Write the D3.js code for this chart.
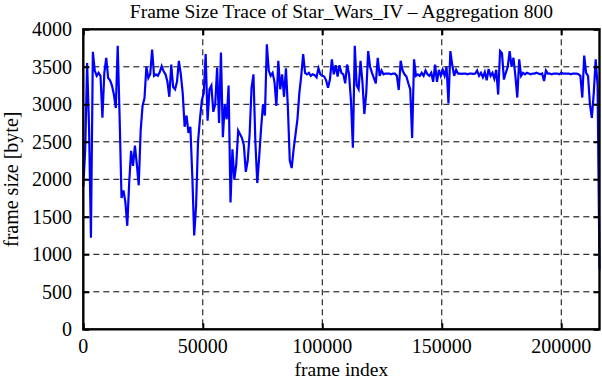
<!DOCTYPE html>
<html>
<head>
<meta charset="utf-8">
<script src="https://cdn.jsdelivr.net/npm/d3@7"></script>
<style>
  html, body { margin: 0; padding: 0; background: #fff; }
  svg text { font-family: "Liberation Serif", "Times New Roman", serif; font-size: 20px; fill: #000; }
</style>
</head>
<body>
<svg id="chart" width="602" height="380"></svg>
<script>
// ---- data ----
const title = "Frame Size Trace of Star_Wars_IV \u2013 Aggregation 800";
const xLabel = "frame index";
const yLabel = "frame size [byte]";
const aggregation = 800;
const xTicks = [0, 50000, 100000, 150000, 200000];
const yTicks = [0, 500, 1000, 1500, 2000, 2500, 3000, 3500, 4000];
const frameSizes = [
  1900, 2400, 3550, 2700, 1220, 3700, 3450, 3380, 3420, 3380,
  2820, 3420, 3620, 3350, 3320, 3250, 3130, 2950, 3780, 2820,
  1750, 1850, 1700, 1380, 1950, 2380, 2180, 2450, 2200, 1920,
  2650, 2980, 3080, 3500, 3350, 3400, 3730, 3380, 3400, 3380,
  3430, 3510, 3440, 3400, 3300, 3100, 3530, 3230, 3200, 3300,
  3580, 3400, 3150, 2700, 2850, 2620, 2700, 2050, 1250, 1650,
  2500, 2800, 3050, 3150, 3670, 2780, 3200, 3250, 2900, 3000,
  3490, 2750, 3690, 2560, 3000, 2800, 3250, 1690, 2400, 2000,
  2200, 2650, 2600, 2550, 2450, 2100, 2250, 2600, 3220, 3400,
  2500, 1950, 2300, 2680, 3000, 2850, 3800, 3450, 3380, 3420,
  3300, 2980, 3580, 3200, 3400, 3100, 3480, 2960, 2250, 2150,
  2400, 2600, 2800, 3150, 3380, 3670, 3420, 3400, 3420, 3380,
  3400, 3390, 3360, 3480, 3400, 3380, 3370, 3320, 3220, 3330,
  3600, 3400, 3520, 3370, 3520, 3420, 3400, 3280, 3530, 3400,
  3050, 2420, 3780, 3250, 3200, 3580, 3300, 2870, 3150, 3710,
  3500, 3420, 3350, 3280, 3620, 3380, 3450, 3400, 3410, 3410,
  3410, 3400, 3410, 3410, 3380, 3190, 3580, 3450, 3400, 3370,
  3280, 3200, 2550, 3600, 3380, 3400, 3380, 3420, 3380, 3450,
  3400, 3380, 3420, 3300, 3530, 3300, 3460, 3380, 3460, 3380,
  3500, 3010, 3710, 3520, 3380, 3460, 3410, 3410, 3405, 3410,
  3410, 3400, 3410, 3410, 3405, 3410, 3450, 3380, 3420, 3360,
  3430, 3320, 3470, 3380, 3420, 3340, 3460, 3130, 3710, 3680,
  3330, 3420, 3500, 3710, 3500, 3620, 3380, 3090, 3600, 3380,
  3420, 3400, 3420, 3410, 3400, 3410, 3410, 3420, 3410, 3400,
  3410, 3310, 3450, 3410, 3410, 3400, 3410, 3410, 3410, 3400,
  3420, 3410, 3410, 3410, 3410, 3400, 3410, 3410, 3410, 3400,
  3380, 3090, 3650, 3420, 3380, 3000, 2820, 3150, 3600, 3250,
  800
];

// ---- layout ----
const svg = d3.select("#chart");
const pL = 83.3, pR = 599.5, pT = 29.3, pB = 329.3;

const x = d3.scaleLinear().domain([0, (frameSizes.length - 1) * aggregation]).range([pL, pR]);
const y = d3.scaleLinear().domain([0, 4000]).range([pB, pT]);

// grid
const grid = svg.append("g");
grid.selectAll("line.hg").data(yTicks.filter(v => v > 0 && v < 4000)).enter().append("line")
  .attr("x1", pL).attr("x2", pR).attr("y1", d => y(d)).attr("y2", d => y(d))
  .attr("stroke", "#000").attr("stroke-width", 1).attr("stroke-dasharray", "6,4");
grid.selectAll("line.vg").data(xTicks.filter(v => v > 0)).enter().append("line")
  .attr("y1", pT).attr("y2", pB).attr("x1", d => x(d)).attr("x2", d => x(d))
  .attr("stroke", "#000").attr("stroke-width", 1).attr("stroke-dasharray", "6,4");

// data line
const line = d3.line().x((d, i) => x(i * aggregation)).y(d => y(d));
svg.append("path").datum(frameSizes)
  .attr("d", line).attr("fill", "none").attr("stroke", "#0000ff")
  .attr("stroke-width", 2.2).attr("stroke-linejoin", "miter");

// axes with inward ticks (mirrored)
const tl = 6;
const axisStyle = g => { g.select(".domain").remove(); g.selectAll("line").attr("stroke", "#000").attr("stroke-width", 2); g.selectAll("text").remove(); };
svg.append("g").attr("transform", `translate(${pL},0)`).call(d3.axisRight(y).tickValues(yTicks).tickSize(tl)).call(axisStyle);
svg.append("g").attr("transform", `translate(${pR},0)`).call(d3.axisLeft(y).tickValues(yTicks).tickSize(tl)).call(axisStyle);
svg.append("g").attr("transform", `translate(0,${pB})`).call(d3.axisTop(x).tickValues(xTicks).tickSize(tl)).call(axisStyle);
svg.append("g").attr("transform", `translate(0,${pT})`).call(d3.axisBottom(x).tickValues(xTicks).tickSize(tl)).call(axisStyle);

// frame
svg.append("rect").attr("x", pL).attr("y", pT).attr("width", pR - pL).attr("height", pB - pT)
  .attr("fill", "none").attr("stroke", "#000").attr("stroke-width", 2.4);

// tick labels
svg.append("g").selectAll("text").data(yTicks).enter().append("text")
  .attr("x", 72).attr("y", d => y(d)).attr("dy", "0.35em").attr("text-anchor", "end")
  .text(d => d3.format("d")(d));
svg.append("g").selectAll("text").data(xTicks).enter().append("text")
  .attr("x", d => x(d)).attr("y", 353).attr("text-anchor", "middle")
  .text(d => d3.format("d")(d));

// labels
svg.append("text").attr("x", (pL + pR) / 2).attr("y", 375.5).attr("text-anchor", "middle")
  .style("font-size", "19.5px").text(xLabel);
svg.append("text").attr("transform", `translate(18,${(pT + pB) / 2}) rotate(-90)`).attr("text-anchor", "middle").text(yLabel);
svg.append("text").attr("x", (pL + pR) / 2).attr("y", 17.8).attr("text-anchor", "middle")
  .style("font-size", "19.5px").text(title);
</script>
</body>
</html>
